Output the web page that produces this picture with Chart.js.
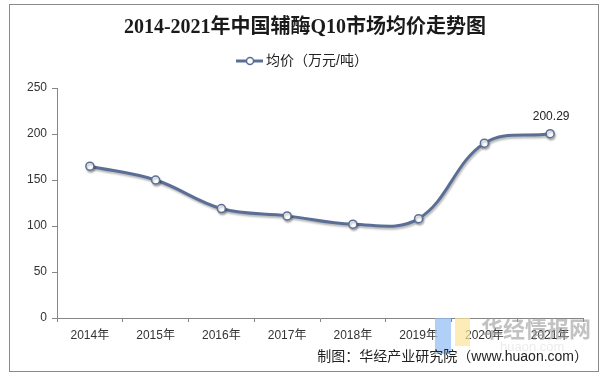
<!DOCTYPE html>
<html><head><meta charset="utf-8">
<script src="https://cdn.jsdelivr.net/npm/chart.js@4.4.1/dist/chart.umd.min.js"></script>
<style>html,body{margin:0;padding:0;background:#fff}#wrap{width:607px;height:379px}</style>
</head><body><div id="wrap"><canvas id="c" width="607" height="379"></canvas></div>
<script>
const TITLE = '2014-2021年中国辅酶Q10市场均价走势图';
const SERIES_NAME = '均价（万元/吨）';
const CATEGORIES = ['2014年','2015年','2016年','2017年','2018年','2019年','2020年','2021年'];
const PRICES = [165, 150, 119, 111, 102, 108, 190, 200.29];
const Y_TICKS = [0, 50, 100, 150, 200, 250];
const LABELED_INDEX = [7];
const SOURCE = '制图：华经产业研究院（www.huaon.com）';
const WATERMARK = '华经情报网';
const WATERMARK_SUB = 'huaon.com';

const LINE_COLOR = '#5a6e96';
const AXIS_COLOR = '#868686';
const SANS = '"Liberation Sans", "Noto Sans CJK SC", sans-serif';

const framePlugin = {
  id: 'frame',
  beforeDraw(chart) {
    const ctx = chart.ctx;
    ctx.save();
    ctx.fillStyle = '#fff';
    ctx.fillRect(0, 0, chart.width, chart.height);
    ctx.strokeStyle = '#8a8a8a';
    ctx.lineWidth = 1;
    ctx.strokeRect(9.5, 4.5, 589, 367);
    ctx.restore();
  },
  afterDraw(chart) {
    const ctx = chart.ctx;
    ctx.save();
    // title
    ctx.fillStyle = '#1a1a1a';
    ctx.font = 'bold 20px "Liberation Serif", "Noto Sans CJK SC", serif';
    ctx.textAlign = 'center';
    ctx.textBaseline = 'middle';
    ctx.fillText(TITLE, 305, 28);
    // legend
    const ds = chart.data.datasets[0];
    ctx.strokeStyle = LINE_COLOR;
    ctx.lineWidth = 3;
    ctx.beginPath(); ctx.moveTo(236, 61); ctx.lineTo(263, 61); ctx.stroke();
    ctx.fillStyle = '#fff';
    ctx.lineWidth = 1.5;
    ctx.beginPath(); ctx.arc(250, 61, 3.5, 0, Math.PI * 2); ctx.fill(); ctx.stroke();
    ctx.fillStyle = '#222';
    ctx.font = '14px ' + SANS;
    ctx.textAlign = 'left';
    ctx.fillText(ds.label, 266, 61);
    // watermark
    ctx.globalAlpha = 0.7;
    ctx.fillStyle = '#8fbcf5';
    ctx.fillRect(435, 318, 16, 36);
    ctx.fillStyle = '#fbe59a';
    ctx.fillRect(455, 318, 15, 28);
    ctx.globalAlpha = 0.6;
    ctx.fillStyle = '#9a9a9a';
    ctx.font = 'bold 22px "Noto Sans CJK SC", sans-serif';
    ctx.textAlign = 'left';
    ctx.fillText(WATERMARK, 481, 329);
    ctx.globalAlpha = 0.2;
    ctx.font = '13px ' + SANS;
    ctx.fillText(WATERMARK_SUB, 500, 347);
    ctx.globalAlpha = 1;
    // source
    ctx.fillStyle = '#222';
    ctx.font = '14px ' + SANS;
    ctx.textAlign = 'right';
    ctx.fillText(SOURCE, 588, 357);
    ctx.restore();
  }
};

const shadowPlugin = {
  id: 'shadow',
  beforeDatasetDraw(chart) {
    const ctx = chart.ctx;
    ctx.save();
    ctx.shadowColor = 'rgba(0,0,0,0.28)';
    ctx.shadowBlur = 2;
    ctx.shadowOffsetX = 1;
    ctx.shadowOffsetY = 2;
  },
  afterDatasetDraw(chart) {
    chart.ctx.restore();
  }
};

const labelPlugin = {
  id: 'valueLabel',
  afterDatasetsDraw(chart) {
    const ctx = chart.ctx;
    const meta = chart.getDatasetMeta(0);
    ctx.save();
    ctx.fillStyle = '#222';
    ctx.font = '12px ' + SANS;
    ctx.textAlign = 'center';
    ctx.textBaseline = 'middle';
    LABELED_INDEX.forEach(i => {
      const el = meta.data[i];
      ctx.fillText(String(chart.data.datasets[0].data[i]), el.x + 1, el.y - 17);
    });
    ctx.restore();
  }
};

new Chart(document.getElementById('c'), {
  type: 'line',
  data: {
    labels: CATEGORIES,
    datasets: [{
      label: SERIES_NAME,
      data: PRICES,
      borderColor: LINE_COLOR,
      borderWidth: 3,
      tension: 0.38,
      pointRadius: 4,
      pointBorderWidth: 1.5,
      pointBackgroundColor: '#fff',
      pointBorderColor: LINE_COLOR
    }]
  },
  options: {
    responsive: false,
    devicePixelRatio: 1,
    animation: false,
    layout: { padding: { top: 88, right: 24, bottom: 31, left: 0 } },
    plugins: { legend: { display: false }, title: { display: false }, tooltip: { enabled: false } },
    scales: {
      x: {
        offset: true,
        grid: { offset: true, drawOnChartArea: false, drawTicks: true, tickLength: 4, color: AXIS_COLOR },
        border: { color: AXIS_COLOR },
        ticks: { color: '#333', font: { size: 12, family: SANS }, padding: 6, maxRotation: 0, autoSkip: false },
        afterFit(s) { s.height = 30; }
      },
      y: {
        min: Y_TICKS[0],
        max: Y_TICKS[Y_TICKS.length - 1],
        afterBuildTicks(s) { s.ticks = Y_TICKS.map(v => ({ value: v })); },
        grid: { drawOnChartArea: false, drawTicks: true, tickLength: 5, color: AXIS_COLOR },
        border: { color: AXIS_COLOR },
        ticks: { color: '#333', font: { size: 12, family: SANS }, padding: 5 },
        afterFit(s) { s.width = 57; }
      }
    }
  },
  plugins: [framePlugin, shadowPlugin, labelPlugin]
});
</script>
</body></html>
